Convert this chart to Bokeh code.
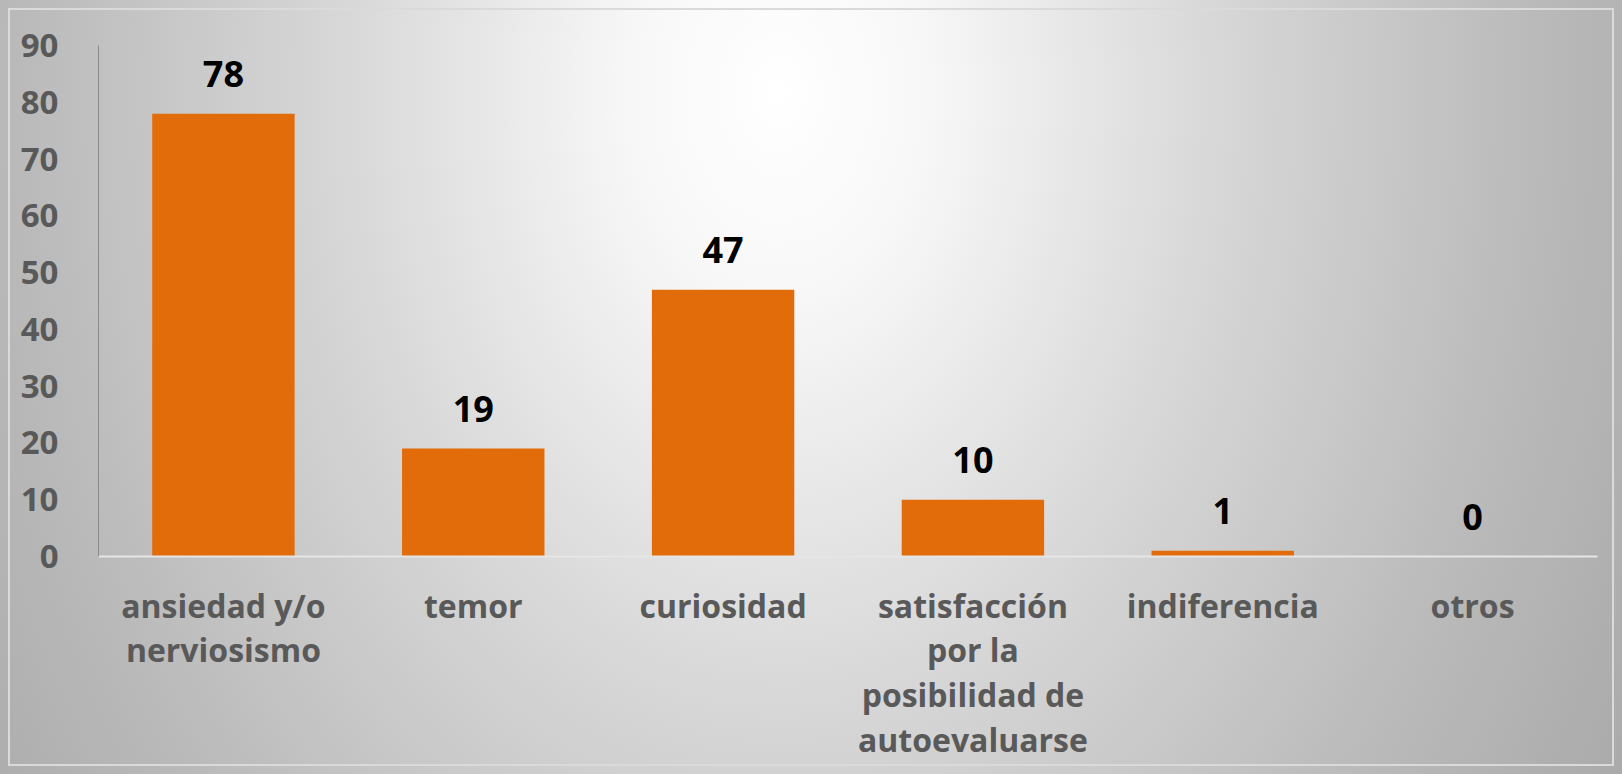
from bokeh.plotting import figure
from bokeh.models import Range1d, FixedTicker
from bokeh.core.properties import value
from bokeh.embed import file_html
from bokeh.resources import INLINE

categories = [
    "ansiedad y/o\nnerviosismo",
    "temor",
    "curiosidad",
    "satisfacción\npor la\nposibilidad de\nautoevaluarse",
    "indiferencia",
    "otros",
]
values = [78, 19, 47, 10, 1, 0]
y_ticks = [0, 10, 20, 30, 40, 50, 60, 70, 80, 90]

FONT = "Open Sans"

p = figure(
    x_range=categories,
    y_range=Range1d(0, 90),
    width=1622,
    height=774,
    output_backend="svg",
    toolbar_location=None,
    min_border_left=98,
    min_border_right=25,
    min_border_top=45,
    min_border_bottom=218,
)
p.styles = {
    "background-image": "radial-gradient(ellipse 62% 180% at 48% 12%, #ffffff 0%, #f7f7f7 15%, #d6d6d6 45%, #bababa 75%, #a8a8a8 100%)",
    "outline": "2px solid #dadada",
    "outline-offset": "-10px",
}
p.background_fill_alpha = 0
p.border_fill_alpha = 0
p.outline_line_color = None
p.xgrid.grid_line_color = None
p.ygrid.grid_line_color = None

p.vbar(x=categories, top=values, width=0.57, color="#E36C0A", line_color=None)

p.text(
    x=categories,
    y=values,
    text=[str(v) for v in values],
    text_font=value(FONT),
    text_font_style="bold",
    text_font_size="36px",
    text_color="#000000",
    text_align="center",
    text_baseline="alphabetic",
    y_offset=-40,
)

p.yaxis.ticker = FixedTicker(ticks=y_ticks)
p.yaxis.major_tick_line_color = None
p.yaxis.minor_tick_line_color = None
p.yaxis.axis_line_color = "#8a8a8a"
p.yaxis.axis_line_width = 1
p.yaxis.major_label_text_font = FONT
p.yaxis.major_label_text_font_style = "bold"
p.yaxis.major_label_text_font_size = "33px"
p.yaxis.major_label_text_color = "#595959"
p.yaxis.major_label_standoff = 34

p.xaxis.major_tick_line_color = None
p.xaxis.minor_tick_line_color = None
p.xaxis.axis_line_color = "#e6e6e6"
p.xaxis.axis_line_width = 2
p.xaxis.major_label_text_font = FONT
p.xaxis.major_label_text_font_style = "bold"
p.xaxis.major_label_text_font_size = "32px"
p.xaxis.major_label_text_color = "#595959"
p.xaxis.major_label_text_line_height = 1.04
p.xaxis.major_label_standoff = 21
p.x_range.range_padding = 0

open("out.html", "w").write(file_html(p, INLINE))
